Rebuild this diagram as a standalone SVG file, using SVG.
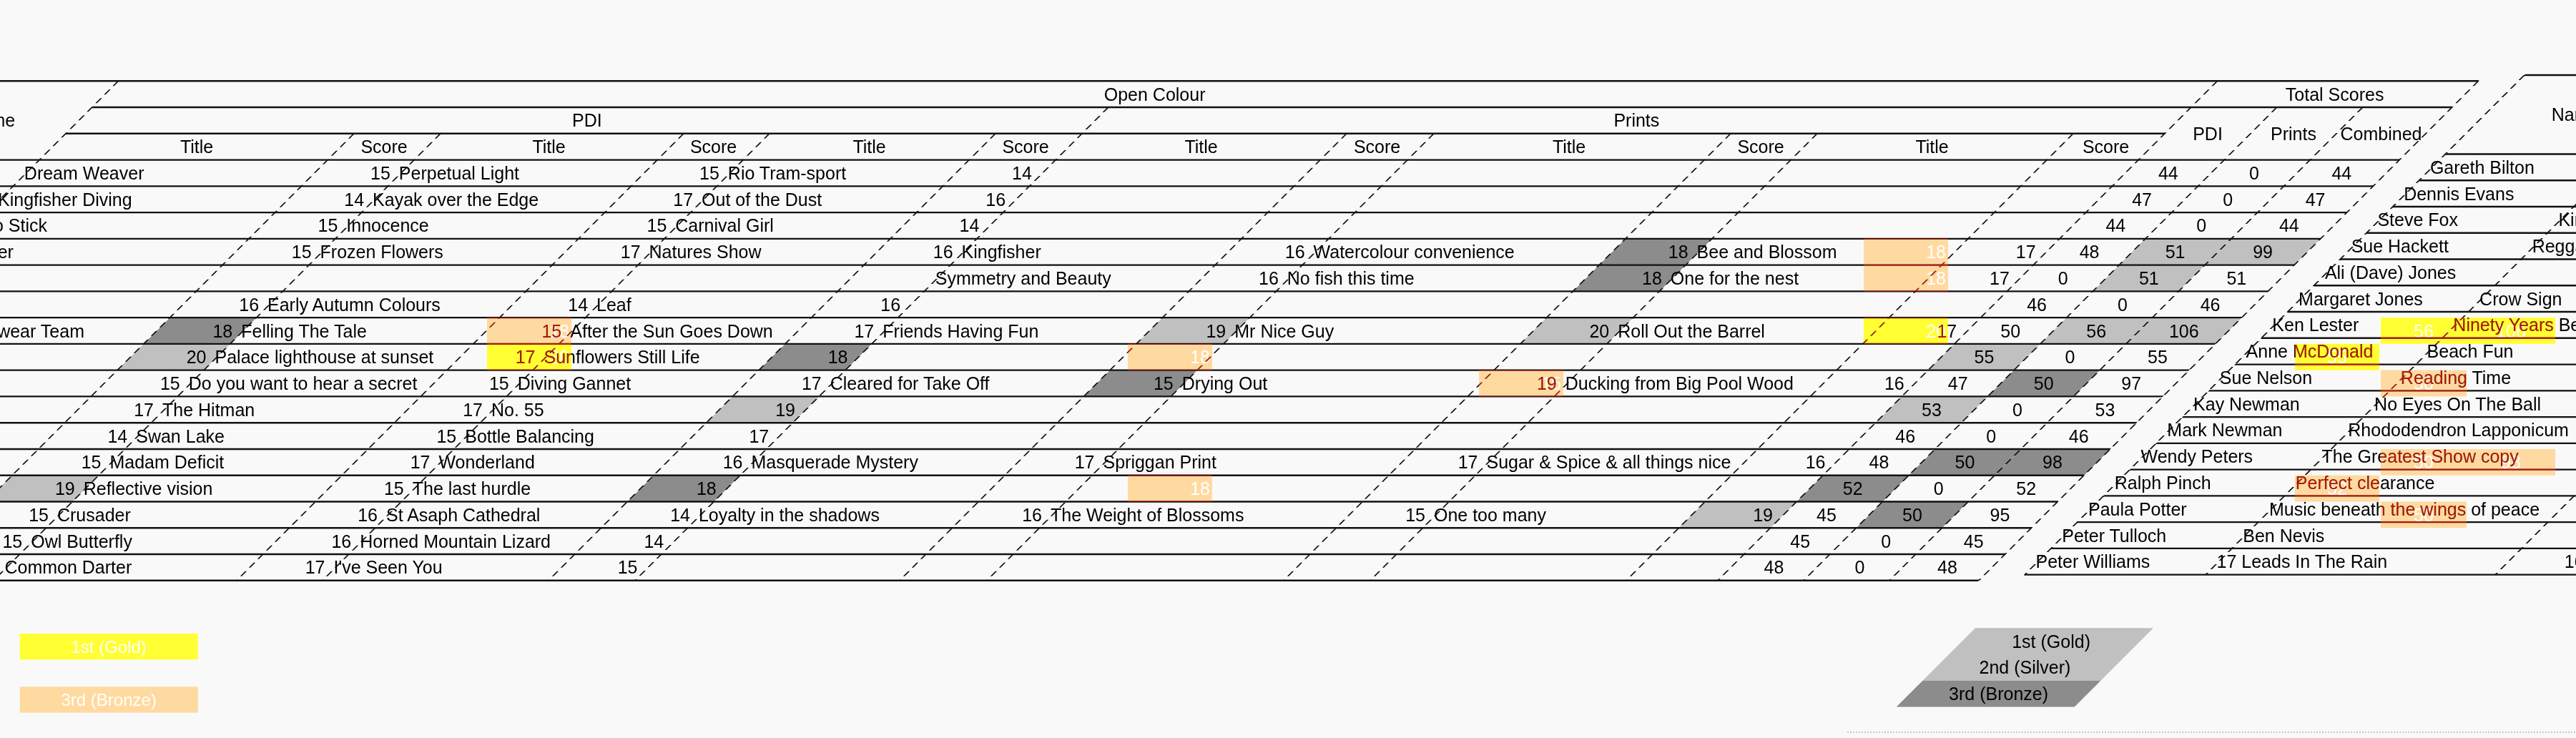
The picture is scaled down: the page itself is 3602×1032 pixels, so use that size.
<svg xmlns="http://www.w3.org/2000/svg" width="3602" height="1032" viewBox="0 0 3602 1032">
<style>
text{font-family:"Liberation Sans",Arial,sans-serif;font-size:25px;fill:#000}
.e{text-anchor:end}.m{text-anchor:middle}
.w{fill:#fff}
.h{fill:none;stroke:#111;stroke-width:2.4}
.v{fill:none;stroke:#111;stroke-width:2.4;stroke-dasharray:7 5}
.lg{fill:#c0c0c0}.dg{fill:#8c8c8c}
.gold{fill:#ffff33}.bronze{fill:#ffdaa0}
.blend{fill:#b01800;mix-blend-mode:lighten}
.leg{font-size:24px}
</style>
<rect width="3602" height="1032" fill="#f9f9f9"/>

<g id="cell-shading" transform="translate(186.8,0) skewX(-45)">
<rect class="dg" x="2420" y="333.86" width="121" height="36.76"/>
<rect class="lg" x="3147" y="333.86" width="120" height="36.76"/>
<rect class="lg" x="3267" y="333.86" width="125" height="36.76"/>
<rect class="dg" x="2420" y="370.62" width="121" height="36.76"/>
<rect class="lg" x="3147" y="370.62" width="120" height="36.76"/>
<rect class="dg" x="495" y="444.14" width="121" height="36.76"/>
<rect class="lg" x="1883" y="444.14" width="122" height="36.76"/>
<rect class="lg" x="2420" y="444.14" width="121" height="36.76"/>
<rect class="lg" x="3147" y="444.14" width="120" height="36.76"/>
<rect class="lg" x="3267" y="444.14" width="125" height="36.76"/>
<rect class="lg" x="495" y="480.9" width="121" height="36.76"/>
<rect class="dg" x="1392" y="480.9" width="121" height="36.76"/>
<rect class="lg" x="3027" y="480.9" width="120" height="36.76"/>
<rect class="dg" x="1883" y="517.66" width="122" height="36.76"/>
<rect class="dg" x="3147" y="517.66" width="120" height="36.76"/>
<rect class="lg" x="1392" y="554.42" width="121" height="36.76"/>
<rect class="lg" x="3027" y="554.42" width="120" height="36.76"/>
<rect class="dg" x="3147" y="627.94" width="120" height="36.76"/>
<rect class="dg" x="3267" y="627.94" width="125" height="36.76"/>
<rect class="lg" x="495" y="664.7" width="121" height="36.76"/>
<rect class="dg" x="1392" y="664.7" width="121" height="36.76"/>
<rect class="dg" x="3027" y="664.7" width="120" height="36.76"/>
<rect class="lg" x="2899" y="701.46" width="128" height="36.76"/>
<rect class="dg" x="3147" y="701.46" width="120" height="36.76"/>
</g>

<g id="highlights">
<rect class="bronze" x="2606" y="333.86" width="118" height="36.76"/>
<rect class="bronze" x="2606" y="370.62" width="118" height="36.76"/>
<rect class="bronze" x="681" y="444.14" width="118" height="36.76"/>
<rect class="gold" x="2606" y="444.14" width="118" height="36.76"/>
<rect class="gold" x="3329" y="444.14" width="120" height="36.76"/>
<rect class="gold" x="3449" y="444.14" width="124" height="36.76"/>
<rect class="gold" x="681" y="480.9" width="118" height="36.76"/>
<rect class="bronze" x="1577" y="480.9" width="118" height="36.76"/>
<rect class="gold" x="3209" y="480.9" width="118" height="36.76"/>
<rect class="bronze" x="2068" y="517.66" width="118" height="36.76"/>
<rect class="bronze" x="3329" y="517.66" width="120" height="36.76"/>
<rect class="bronze" x="3329" y="627.94" width="120" height="36.76"/>
<rect class="bronze" x="3449" y="627.94" width="124" height="36.76"/>
<rect class="bronze" x="1577" y="664.7" width="118" height="36.76"/>
<rect class="bronze" x="3209" y="664.7" width="118" height="36.76"/>
<rect class="bronze" x="3329" y="701.46" width="120" height="36.76"/>
</g>
<g id="highlight-values">
<text class="w e" x="2721" y="361.24">18</text>
<text class="w e" x="2721" y="398">18</text>
<text class="w e" x="796" y="471.52">18</text>
<text class="w e" x="2721" y="471.52">20</text>
<text class="w m" x="3389" y="471.52">56</text>
<text class="w m" x="3511" y="471.52">106</text>
<text class="w e" x="796" y="508.28">20</text>
<text class="w e" x="1692" y="508.28">18</text>
<text class="w m" x="3268" y="508.28">55</text>
<text class="w e" x="2183" y="545.04">15</text>
<text class="w m" x="3389" y="545.04">50</text>
<text class="w m" x="3389" y="655.32">50</text>
<text class="w m" x="3511" y="655.32">98</text>
<text class="w e" x="1692" y="692.08">18</text>
<text class="w m" x="3268" y="692.08">52</text>
<text class="w m" x="3389" y="728.84">50</text>
</g>

<g id="connectors" transform="translate(186.8,0) skewX(-45)">
<path class="h" d="M-153 113.3H3392M92 150.06H3392M92 186.82H3027M-153 223.58H3392M-153 260.34H3392M-153 297.1H3392M-153 333.86H3392M-153 370.62H3392M-153 407.38H3392M-153 444.14H3392M-153 480.9H3392M-153 517.66H3392M-153 554.42H3392M-153 591.18H3392M-153 627.94H3392M-153 664.7H3392M-153 701.46H3392M-153 738.22H3392M-153 774.98H3392M-153 811.74H3392"/>
<path class="v" d="M-153 113.3V811.74M92 113.3V811.74M495 186.82V811.74M616 186.82V811.74M956 186.82V811.74M1076 186.82V811.74M1392 186.82V811.74M1513 150.06V811.74M1883 186.82V811.74M2005 186.82V811.74M2420 186.82V811.74M2541 186.82V811.74M2899 186.82V811.74M3027 113.3V811.74M3147 150.06V811.74M3267 150.06V811.74M3392 113.3V811.74"/>
<path class="h" d="M3448 105H4700M3448 215.5H4700M3448 252.26H4700M3448 289.02H4700M3448 325.78H4700M3448 362.54H4700M3448 399.3H4700M3448 436.06H4700M3448 472.82H4700M3448 509.58H4700M3448 546.34H4700M3448 583.1H4700M3448 619.86H4700M3448 656.62H4700M3448 693.38H4700M3448 730.14H4700M3448 766.9H4700M3448 803.66H4700"/>
<path class="v" d="M3448 105V803.66M3701 105V803.66M4106 105V803.66"/>
</g>

<g id="scores-table">
<g id="head-r0" transform="translate(55.12,140.68)"><text class="m" x="1559.5">Open Colour</text><text class="m" x="3209.5">Total Scores</text></g>
<g id="head-r1" transform="translate(18.36,177.44)"><text class="m" x="-30.5">Name</text><text class="m" x="802.5">PDI</text><text class="m" x="2270">Prints</text></g>
<g id="head-totals" transform="translate(0,195.82)"><text class="m" x="3087">PDI</text><text class="m" x="3207">Prints</text><text class="m" x="3329.5">Combined</text></g>
<g id="head-r2" transform="translate(-18.4,214.2)"><text class="m" x="293.5">Title</text><text class="m" x="555.5">Score</text><text class="m" x="786">Title</text><text class="m" x="1016">Score</text><text class="m" x="1234">Title</text><text class="m" x="1452.5">Score</text><text class="m" x="1698">Title</text><text class="m" x="1944">Score</text><text class="m" x="2212.5">Title</text><text class="m" x="2480.5">Score</text><text class="m" x="2720">Title</text><text class="m" x="2963">Score</text></g>

<g id="row3" transform="translate(-55.16,250.96)"><text x="89">Dream Weaver</text><text class="e" x="601">15</text><text x="613">Perpetual Light</text><text class="e" x="1061">15</text><text x="1073">Rio Tram-sport</text><text class="e" x="1498">14</text><text class="m" x="3087">44</text><text class="m" x="3207">0</text><text class="m" x="3329.5">44</text></g>
<g id="row4" transform="translate(-91.92,287.72)"><text x="89">Kingfisher Diving</text><text class="e" x="601">14</text><text x="613">Kayak over the Edge</text><text class="e" x="1061">17</text><text x="1073">Out of the Dust</text><text class="e" x="1498">16</text><text class="m" x="3087">47</text><text class="m" x="3207">0</text><text class="m" x="3329.5">47</text></g>
<g id="row5" transform="translate(-128.68,324.48)"><text class="e" x="194.7">Pogo Stick</text><text class="e" x="601">15</text><text x="613">Innocence</text><text class="e" x="1061">15</text><text x="1073">Carnival Girl</text><text class="e" x="1498">14</text><text class="m" x="3087">44</text><text class="m" x="3207">0</text><text class="m" x="3329.5">44</text></g>
<g id="row6" transform="translate(-165.44,361.24)"><text class="e" x="184.4">Heather</text><text class="e" x="601">15</text><text x="613">Frozen Flowers</text><text class="e" x="1061">17</text><text x="1073">Natures Show</text><text class="e" x="1498">16</text><text x="1510">Kingfisher</text><text class="e" x="1990">16</text><text x="2002">Watercolour convenience</text><text class="e" x="2526">18</text><text x="2538">Bee and Blossom</text><text class="e" x="3012">17</text><text class="m" x="3087">48</text><text class="m" x="3207">51</text><text class="m" x="3329.5">99</text></g>
<g id="row7" transform="translate(-202.2,398)"><text x="1510">Symmetry and Beauty</text><text class="e" x="1990">16</text><text x="2002">No fish this time</text><text class="e" x="2526">18</text><text x="2538">One for the nest</text><text class="e" x="3012">17</text><text class="m" x="3087">0</text><text class="m" x="3207">51</text><text class="m" x="3329.5">51</text></g>
<g id="row8" transform="translate(-238.96,434.76)"><text class="e" x="601">16</text><text x="613">Early Autumn Colours</text><text class="e" x="1061">14</text><text x="1073">Leaf</text><text class="e" x="1498">16</text><text class="m" x="3087">46</text><text class="m" x="3207">0</text><text class="m" x="3329.5">46</text></g>
<g id="row9" transform="translate(-275.72,471.52)"><text class="e" x="393.7">Swimwear Team</text><text class="e" x="601">18</text><text x="613">Felling The Tale</text><text class="e" x="1061">15</text><text x="1073">After the Sun Goes Down</text><text class="e" x="1498">17</text><text x="1510">Friends Having Fun</text><text class="e" x="1990">19</text><text x="2002">Mr Nice Guy</text><text class="e" x="2526">20</text><text x="2538">Roll Out the Barrel</text><text class="e" x="3012">17</text><text class="m" x="3087">50</text><text class="m" x="3207">56</text><text class="m" x="3329.5">106</text></g>
<g id="row10" transform="translate(-312.48,508.28)"><text class="e" x="601">20</text><text x="613">Palace lighthouse at sunset</text><text class="e" x="1061">17</text><text x="1073">Sunflowers Still Life</text><text class="e" x="1498">18</text><text class="m" x="3087">55</text><text class="m" x="3207">0</text><text class="m" x="3329.5">55</text></g>
<g id="row11" transform="translate(-349.24,545.04)"><text class="e" x="601">15</text><text x="613">Do you want to hear a secret</text><text class="e" x="1061">15</text><text x="1073">Diving Gannet</text><text class="e" x="1498">17</text><text x="1510">Cleared for Take Off</text><text class="e" x="1990">15</text><text x="2002">Drying Out</text><text class="e" x="2526">19</text><text x="2538">Ducking from Big Pool Wood</text><text class="e" x="3012">16</text><text class="m" x="3087">47</text><text class="m" x="3207">50</text><text class="m" x="3329.5">97</text></g>
<g id="row12" transform="translate(-386,581.8)"><text class="e" x="601">17</text><text x="613">The Hitman</text><text class="e" x="1061">17</text><text x="1073">No. 55</text><text class="e" x="1498">19</text><text class="m" x="3087">53</text><text class="m" x="3207">0</text><text class="m" x="3329.5">53</text></g>
<g id="row13" transform="translate(-422.76,618.56)"><text class="e" x="601">14</text><text x="613">Swan Lake</text><text class="e" x="1061">15</text><text x="1073">Bottle Balancing</text><text class="e" x="1498">17</text><text class="m" x="3087">46</text><text class="m" x="3207">0</text><text class="m" x="3329.5">46</text></g>
<g id="row14" transform="translate(-459.52,655.32)"><text class="e" x="601">15</text><text x="613">Madam Deficit</text><text class="e" x="1061">17</text><text x="1073">Wonderland</text><text class="e" x="1498">16</text><text x="1510">Masquerade Mystery</text><text class="e" x="1990">17</text><text x="2002">Spriggan Print</text><text class="e" x="2526">17</text><text x="2538">Sugar &amp; Spice &amp; all things nice</text><text class="e" x="3012">16</text><text class="m" x="3087">48</text><text class="m" x="3207">50</text><text class="m" x="3329.5">98</text></g>
<g id="row15" transform="translate(-496.28,692.08)"><text class="e" x="601">19</text><text x="613">Reflective vision</text><text class="e" x="1061">15</text><text x="1073">The last hurdle</text><text class="e" x="1498">18</text><text class="m" x="3087">52</text><text class="m" x="3207">0</text><text class="m" x="3329.5">52</text></g>
<g id="row16" transform="translate(-533.04,728.84)"><text class="e" x="601">15</text><text x="613">Crusader</text><text class="e" x="1061">16</text><text x="1073">St Asaph Cathedral</text><text class="e" x="1498">14</text><text x="1510">Loyalty in the shadows</text><text class="e" x="1990">16</text><text x="2002">The Weight of Blossoms</text><text class="e" x="2526">15</text><text x="2538">One too many</text><text class="e" x="3012">19</text><text class="m" x="3087">45</text><text class="m" x="3207">50</text><text class="m" x="3329.5">95</text></g>
<g id="row17" transform="translate(-569.8,765.6)"><text class="e" x="601">15</text><text x="613">Owl Butterfly</text><text class="e" x="1061">16</text><text x="1073">Horned Mountain Lizard</text><text class="e" x="1498">14</text><text class="m" x="3087">45</text><text class="m" x="3207">0</text><text class="m" x="3329.5">45</text></g>
<g id="row18" transform="translate(-606.56,802.36)"><text class="e" x="601">16</text><text x="613">Common Darter</text><text class="e" x="1061">17</text><text x="1073">I've Seen You</text><text class="e" x="1498">15</text><text class="m" x="3087">48</text><text class="m" x="3207">0</text><text class="m" x="3329.5">48</text></g>
</g>

<g id="names-table">
<g id="n-head" transform="translate(26.55,169.25)"><text class="m" x="3574.5">Name</text></g>
<g id="n0" transform="translate(-47.08,242.88)"><text x="3445">Gareth Bilton</text></g>
<g id="n1" transform="translate(-83.84,279.64)"><text x="3445">Dennis Evans</text></g>
<g id="n2" transform="translate(-120.6,316.4)"><text x="3445">Steve Fox</text><text x="3698">Kingfisher</text></g>
<g id="n3" transform="translate(-157.36,353.16)"><text x="3445">Sue Hackett</text><text x="3698">Reggae</text></g>
<g id="n4" transform="translate(-194.12,389.92)"><text x="3445">Ali (Dave) Jones</text></g>
<g id="n5" transform="translate(-230.88,426.68)"><text x="3445">Margaret Jones</text><text x="3698">Crow Sign</text></g>
<g id="n6" transform="translate(-267.64,463.44)"><text x="3445">Ken Lester</text><text x="3698">Ninety Years Before</text></g>
<g id="n7" transform="translate(-304.4,500.2)"><text x="3445">Anne McDonald</text><text x="3698">Beach Fun</text></g>
<g id="n8" transform="translate(-341.16,536.96)"><text x="3445">Sue Nelson</text><text x="3698">Reading Time</text></g>
<g id="n9" transform="translate(-377.92,573.72)"><text x="3445">Kay Newman</text><text x="3698">No Eyes On The Ball</text></g>
<g id="n10" transform="translate(-414.68,610.48)"><text x="3445">Mark Newman</text><text x="3698">Rhododendron Lapponicum</text></g>
<g id="n11" transform="translate(-451.44,647.24)"><text x="3445">Wendy Peters</text><text x="3698">The Greatest Show copy</text></g>
<g id="n12" transform="translate(-488.2,684)"><text x="3445">Ralph Pinch</text><text x="3698">Perfect clearance</text></g>
<g id="n13" transform="translate(-524.96,720.76)"><text x="3445">Paula Potter</text><text x="3698">Music beneath the wings of peace</text></g>
<g id="n14" transform="translate(-561.72,757.52)"><text x="3445">Peter Tulloch</text><text x="3698">Ben Nevis</text></g>
<g id="n15" transform="translate(-598.48,794.28)"><text x="3445">Peter Williams</text><text x="3698">17 Leads In The Rain</text><text class="e" x="4212">16</text></g>
</g>

<g id="highlight-tint">
<rect class="blend" x="2606" y="333.86" width="118" height="73.52"/>
<rect class="blend" x="681" y="444.14" width="118" height="73.52"/>
<rect class="blend" x="2606" y="444.14" width="118" height="36.76"/>
<rect class="blend" x="3329" y="444.14" width="244" height="36.76"/>
<rect class="blend" x="1577" y="480.9" width="118" height="36.76"/>
<rect class="blend" x="3209" y="480.9" width="118" height="36.76"/>
<rect class="blend" x="2068" y="517.66" width="118" height="36.76"/>
<rect class="blend" x="3329" y="517.66" width="120" height="36.76"/>
<rect class="blend" x="3329" y="627.94" width="244" height="36.76"/>
<rect class="blend" x="1577" y="664.7" width="118" height="36.76"/>
<rect class="blend" x="3209" y="664.7" width="118" height="36.76"/>
<rect class="blend" x="3329" y="701.46" width="120" height="36.76"/>
</g>

<g id="legend-colour">
<rect class="gold" x="27.7" y="886" width="249" height="36.3"/>
<text class="w m leg" x="152.2" y="913">1st (Gold)</text>
<rect class="bronze" x="27.7" y="960.3" width="249" height="36.3"/>
<text class="w m leg" x="152.2" y="987">3rd (Bronze)</text>
</g>

<g id="legend-grey">
<g transform="translate(186.8,0) skewX(-45)">
<rect class="lg" x="3453.5" y="878.3" width="249" height="73.52"/>
<rect class="dg" x="3453.5" y="951.82" width="249" height="36.76"/>
</g>
<text class="m" x="2868.1" y="905.68">1st (Gold)</text>
<text class="m" x="2831.4" y="942.44">2nd (Silver)</text>
<text class="m" x="2794.6" y="979.2">3rd (Bronze)</text>
</g>
<line x1="2583" y1="1024" x2="3602" y2="1024" stroke="#c8c8c8" stroke-width="2" stroke-dasharray="2 2"/>
</svg>
